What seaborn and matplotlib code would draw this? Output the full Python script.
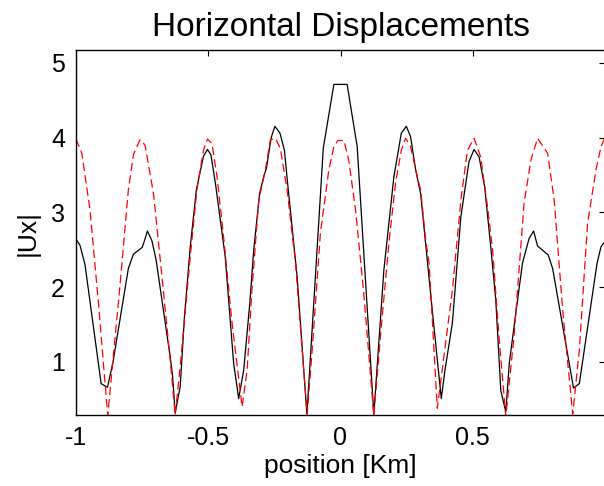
import matplotlib
matplotlib.use("Agg")
import matplotlib.pyplot as plt
import seaborn as sns
import pandas as pd

# ---- data ----
ux_x = [-1.000, -0.985, -0.966, -0.905, -0.881, -0.860, -0.802, -0.783, -0.750, -0.742,
        -0.730, -0.713, -0.697, -0.644, -0.635, -0.625, -0.606, -0.590, -0.568, -0.545,
        -0.518, -0.503, -0.490, -0.473, -0.436, -0.404, -0.385, -0.366, -0.343, -0.328,
        -0.306, -0.290, -0.280, -0.262, -0.248, -0.229, -0.212, -0.200, -0.164, -0.127,
        -0.065, -0.025, 0.025, 0.063, 0.126, 0.164, 0.202, 0.230, 0.249, 0.265,
        0.284, 0.303, 0.347, 0.381, 0.395, 0.423, 0.455, 0.486, 0.505, 0.524,
        0.545, 0.568, 0.587, 0.606, 0.625, 0.638, 0.656, 0.688, 0.713, 0.730,
        0.745, 0.785, 0.802, 0.881, 0.903, 0.970, 0.985, 1.000]
ux_y = [2.64, 2.56, 2.30, 0.71, 0.66, 1.00, 2.25, 2.44, 2.53, 2.61,
        2.75, 2.62, 2.36, 1.07, 0.82, 0.32, 0.67, 1.60, 2.54, 3.30,
        3.75, 3.84, 3.77, 3.39, 2.41, 0.98, 0.51, 0.89, 1.78, 2.50,
        3.25, 3.48, 3.59, 4.00, 4.15, 4.06, 3.83, 3.39, 2.14, 0.30,
        3.86, 4.71, 4.71, 3.88, 0.30, 2.23, 3.48, 4.06, 4.15, 4.01,
        3.57, 3.25, 1.69, 0.51, 0.89, 1.52, 2.94, 3.68, 3.84, 3.74,
        3.34, 2.54, 1.83, 0.62, 0.33, 0.98, 1.47, 2.32, 2.65, 2.75,
        2.55, 2.43, 2.25, 0.65, 0.71, 2.32, 2.54, 2.61]

ref_x = [-1.000, -0.978, -0.947, -0.915, -0.880, -0.833, -0.802, -0.783, -0.758, -0.739,
         -0.707, -0.675, -0.644, -0.625, -0.606, -0.568, -0.543, -0.518, -0.503, -0.486,
         -0.467, -0.442, -0.410, -0.372, -0.353, -0.335, -0.309, -0.284, -0.265, -0.246,
         -0.227, -0.202, -0.170, -0.145, -0.126, -0.107, -0.076, -0.044, -0.025, -0.010,
         0.013, 0.031, 0.057, 0.088, 0.126, 0.152, 0.183, 0.208, 0.230, 0.246,
         0.265, 0.290, 0.303, 0.322, 0.335, 0.366, 0.423, 0.455, 0.480, 0.505,
         0.530, 0.556, 0.575, 0.600, 0.625, 0.656, 0.694, 0.720, 0.745, 0.783,
         0.808, 0.840, 0.878, 0.903, 0.934, 0.966, 0.985, 1.000]
ref_y = [3.98, 3.79, 3.03, 1.78, 0.28, 2.05, 3.30, 3.77, 3.97, 3.90,
         3.25, 2.14, 1.03, 0.29, 0.94, 2.41, 3.30, 3.83, 3.98, 3.92,
         3.48, 2.67, 1.52, 0.40, 0.89, 1.96, 3.16, 3.57, 3.97, 3.99,
         3.85, 3.30, 2.32, 1.16, 0.30, 1.16, 2.72, 3.57, 3.88, 3.96,
         3.96, 3.70, 3.03, 1.92, 0.28, 1.38, 2.59, 3.39, 3.83, 3.99,
         3.88, 3.48, 3.30, 2.63, 2.32, 0.38, 1.96, 3.16, 3.83, 3.99,
         3.74, 3.07, 2.50, 1.30, 0.27, 1.34, 3.12, 3.70, 3.99, 3.79,
         3.16, 1.69, 0.30, 1.16, 2.85, 3.57, 3.88, 4.00]

x_ticks = [-1, -0.5, 0, 0.5]
x_ticklabels = ["-1", "-0.5", "0", "0.5"]
y_ticks = [1, 2, 3, 4, 5]

sns.set_style("white")
plt.rcParams["font.family"] = ["Liberation Sans", "DejaVu Sans"]
plt.rcParams["lines.scale_dashes"] = False
plt.rcParams["text.color"] = "black"
plt.rcParams["axes.labelcolor"] = "black"

fig = plt.figure(figsize=(6.04, 4.86), dpi=100)
ax = fig.add_axes([76 / 604, 1 - 415 / 486, 1 - 76 / 604 + 1 / 604, (415 - 50) / 486])

df_ux = pd.DataFrame({"x": ux_x, "y": ux_y})
df_ref = pd.DataFrame({"x": ref_x, "y": ref_y})

sns.lineplot(data=df_ux, x="x", y="y", ax=ax, color="black", lw=0.9,
             sort=False, estimator=None)
sns.lineplot(data=df_ref, x="x", y="y", ax=ax, color="#ff0000", lw=0.9,
             sort=False, estimator=None, linestyle="--")
ax.lines[-1].set_dashes([6.0, 3.0])

ax.set_xlim(-1, 1)
ax.set_ylim(0.29, 5.17)
ax.set_xticks(x_ticks)
ax.set_xticklabels(x_ticklabels)
ax.set_yticks(y_ticks)
ax.set_yticklabels([str(v) for v in y_ticks])

for s in ax.spines.values():
    s.set_visible(True)
    s.set_color("black")
    s.set_linewidth(1.0)
ax.tick_params(direction="in", length=4, width=0.8, top=True, right=True,
               labelsize=18, colors="black", pad=8)

ax.set_xlabel("position [Km]", fontsize=19, labelpad=3, color="black")
ax.set_ylabel("|Ux|", fontsize=19, labelpad=8, color="black")
ax.set_title("Horizontal Displacements", fontsize=24, pad=10, color="black")

fig.savefig("out.png", dpi=100)
